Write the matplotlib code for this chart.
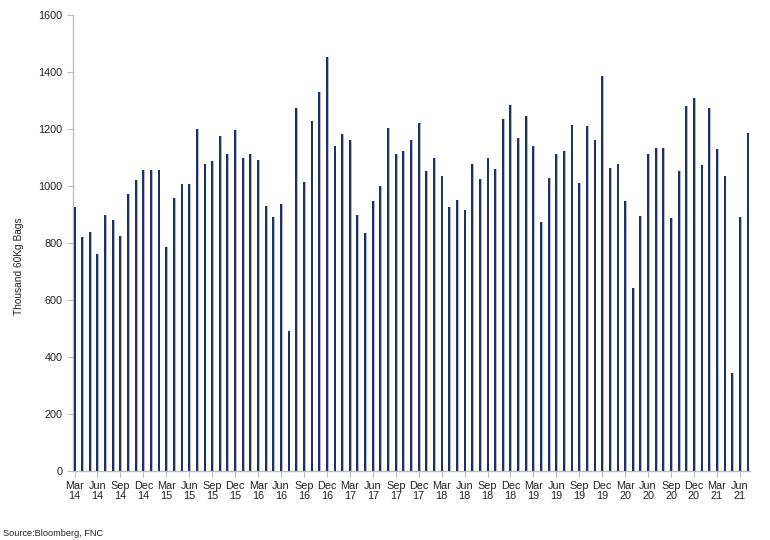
import numpy as np
import matplotlib.pyplot as plt

plt.rcParams['font.family'] = ['Liberation Sans', 'DejaVu Sans']

# Monthly values, Mar 2014 .. Jul 2021 (thousand 60kg bags)
months = ['Jan', 'Feb', 'Mar', 'Apr', 'May', 'Jun',
          'Jul', 'Aug', 'Sep', 'Oct', 'Nov', 'Dec']
start_year, start_month = 2014, 3

values = [
    927, 822, 837, 761, 900, 881, 826, 971, 1020, 1056,        # Mar14 - Dec14
    1057, 1057, 786, 958, 1007, 1007, 1201, 1078, 1087, 1174, 1111, 1195,  # 2015
    1098, 1112, 1091, 931, 891, 936, 491, 1274, 1013, 1230, 1331, 1452,    # 2016
    1139, 1183, 1160, 898, 834, 947, 1001, 1205, 1114, 1124, 1163, 1223,   # 2017
    1053, 1098, 1036, 926, 951, 916, 1076, 1026, 1099, 1059, 1235, 1284,   # 2018
    1167, 1246, 1142, 873, 1028, 1111, 1123, 1214, 1009, 1212, 1163, 1387, # 2019
    1064, 1078, 949, 642, 895, 1112, 1132, 1132, 888, 1053, 1280, 1310,    # 2020
    1074, 1275, 1129, 1035, 345, 891, 1185,                                # 2021
]

x = np.arange(len(values))
tick_pos = x[::3]
tick_labels = []
for i in tick_pos:
    m = (start_month - 1 + i) % 12
    y = start_year + (start_month - 1 + i) // 12
    tick_labels.append(f"{months[m]}\n{y % 100:02d}")

fig = plt.figure(figsize=(7.7, 5.4), dpi=100)
ax = fig.add_axes([0.0948, 0.128, 0.879, 0.844])

# light grey shadow, then the navy bar
ax.bar(x + 0.14, values, width=0.2, color='#b8b8b8', zorder=2)
ax.bar(x, values, width=0.26, color='#1c3166', zorder=3)

ax.set_xlim(-0.2, 88.3)
ax.set_ylim(0, 1600)
ax.set_yticks(np.arange(0, 1601, 200))
ax.set_xticks(tick_pos)
ax.set_xticklabels(tick_labels, linespacing=1.1)

for s in ['top', 'right']:
    ax.spines[s].set_visible(False)
for s in ['left', 'bottom']:
    ax.spines[s].set_color('#bdbdbd')
    ax.spines[s].set_linewidth(1.0)
ax.tick_params(axis='both', direction='out', length=4, color='#bdbdbd',
               labelsize=7.8, labelcolor='#222222')
ax.tick_params(axis='x', pad=3)

fig.text(0.0247, 0.507, 'Thousand 60Kg Bags', rotation=90, ha='center',
         va='center', fontsize=7.3, color='#222222')

fig.text(0.004, 0.008, 'Source:Bloomberg, FNC', fontsize=6.6, color='#222222')

fig.savefig('out.png', dpi=100)
